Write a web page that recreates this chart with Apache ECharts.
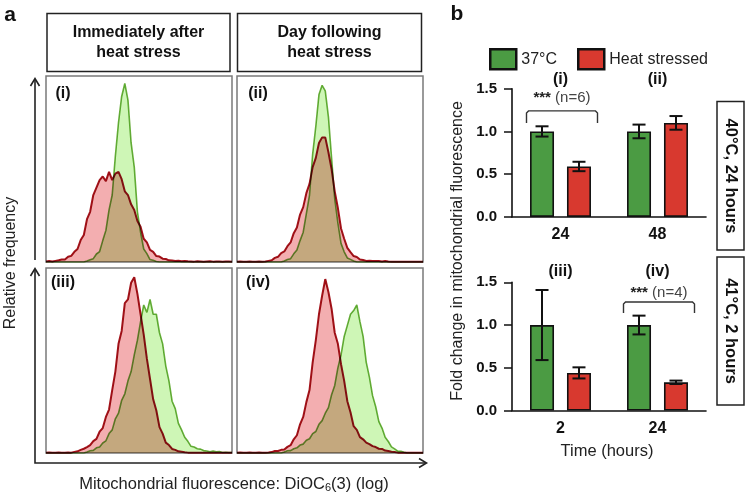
<!DOCTYPE html>
<html><head><meta charset="utf-8">
<script src="https://cdn.jsdelivr.net/npm/echarts@6/dist/echarts.min.js"></script>
<style>html,body{margin:0;padding:0;background:#fff}#c{width:746px;height:495px}</style>
</head><body><div id="c"></div>
<script>
// ---------- Panel a: flow-cytometry histograms (relative frequency, % of panel height), 60 log bins ----------
const histI_green   = [0,0,0,0,0,0,0,0,0,0,0,0,0, 0.5,1.2,1.8,4.3,5.6,11.5,17,28,36,57,75,89,96,87,64,51,27,16,7,4.5,1.3,0.9,0.3, 0,0,0,0,0,0,0,0,0,0,0,0,0,0,0,0,0,0,0,0,0,0,0,0];
const histI_red     = [0.3,0.5,0.3,0.6,0.9,1.3,1.4,2.8,3.3,5.5,7,11.8,14.5,23,27,36,40,44,46,43.5,48.5,44,47.5,48.5,44.5,38,36,31,28,22,19,12.5,10.5,6.5,5.4,3.2,2.9,1.8,1.6,0.9,0.8,0.5,0.7,0.4,0.6,0.4, 0.3,0.2,0.4,0.3,0.2,0.3,0.4,0.2,0.3,0.3,0.2,0.3,0.3,0.2];
const histII_green  = [0,0,0,0,0,0,0,0,0,0,0,0,0,0,0, 0.5,1.3,1.8,4.4,6.5,11.5,16,26,36,58,73,90,95,92,78,56,34,21,10,5.5,2.2,1.4,0.5, 0,0,0,0,0,0,0,0,0,0,0,0,0,0,0,0,0,0,0,0,0,0];
const histII_red    = [0.2,0.3,0.2,0.1,0.3,0.2,0.2,0.3,0.2,0.3, 0.6,0.9,2.2,2.8,4.8,5.7,8.5,10.5,15.5,18.5,25.5,29.5,37,42,51,56,64,67,67,59,50,38,29,18,12.5,7.6,5.3,3.2,2.7,1.3,1.1,0.6,0.7,0.5,0.6,0.5,0.3,0.5,0.3, 0.2,0.2,0.2,0.2,0.2,0.2,0.2,0.2,0.2,0.2,0.2];
const histIII_green = [0,0,0,0,0,0,0,0,0,0,0,0,0, 0.5,1.2,1.4,2.8,3.3,5.4,6.6,10.5,12.5,18.5,21.5,28.5,32,39,44,53,61,71,80,76,83,75,75,65,59,47,39,28,24,16,12.5,8.5,6.3,3.6,3.2,2.3,2.1,1.3,1.1,0.7,1,0.6,0.8, 0.3,0.4,0.2,0.3];
const histIII_red   = [0.2,0.3,0.2,0.2,0.3,0.2,0.2,0.3,0.2, 0.6,0.9,1.7,2.3,3.2,4.3,6.4,7.6,11.5,13.5,19.5,23.5,34,44,59,66,81,83,92,95,86,75,64,51,40,29,23,14,10.5,5.6,4.3,2.2,1.7,0.9,0.7,0.4, 0.2,0.2,0.2,0.2,0.2,0.2,0.2,0.2,0.2,0.2,0.2,0.2,0.2,0.2,0.2];
const histIV_green  = [0,0,0,0,0,0,0,0,0,0,0,0,0,0,0, 0.5,1.2,1.3,2.3,2.8,4.3,4.8,6.9,7.7,10.5,11.6,15.5,17.5,21.5,24.5,31.5,36.5,46,53,63,69,75,77,80,71,63,49,41,31,25,17,13.5,8.5,6.2,3.3,2.2,1,0.9,0.4, 0,0,0,0,0,0];
const histIV_red    = [0.2,0.3,0.2,0.2,0.3,0.2,0.2,0.3,0.2,0.2,0.3, 0.5,1.1,1.1,1.7,1.9,3.3,4.2,7.4,9.6,15.5,19.5,27.5,34,49,61,75,85,94,87,78,65,59,48,39,28,22,14.5,12.5,8.6,7.4,5.6,4.8,3.7,3.2,2.3,2.2,1.3,1.1,0.7,0.5, 0.2,0.2,0.2,0.2,0.2,0.2,0.2,0.2,0.2];
const panelLabels = ['(i)', '(ii)', '(iii)', '(iv)'];
const headerLabels = ['Immediately after\nheat stress', 'Day following\nheat stress'];

// ---------- Panel b: fold change in mitochondrial fluorescence ----------
const seriesNames = ['37°C', 'Heat stressed'];
const timeTop = ['24', '48'];
const ctrlTop = [1.00, 1.00];
const ctrlTopErr = [0.06, 0.08];
const heatTop = [0.59, 1.10];
const heatTopErr = [0.055, 0.08];
const timeBot = ['2', '24'];
const ctrlBot = [1.00, 1.00];
const ctrlBotErr = [0.41, 0.11];
const heatBot = [0.44, 0.33];
const heatBotErr = [0.065, 0.02];
const yTicks = [0, 0.5, 1.0, 1.5];
// significance annotations: [category index, bracket top, bracket end, text y]
const sigTop = [[0, 1.24, 1.10, 1.39]];
const sigTopN = ['6'];
const sigBot = [[1, 1.27, 1.14, 1.38]];
const sigBotN = ['4'];
const rightBoxLabels = ['40°C, 24 hours', '41°C, 2 hours'];

const FONT = '"Liberation Sans", Arial, Helvetica, sans-serif';
const GREEN_LINE = '#6aae3c', GREEN_FILL = '#cef6b6';
const RED_LINE = '#a3121a', RED_FILL = '#f3aeb0';
const BAR_GREEN = '#4b9b43', BAR_RED = '#d8392f';
const BAR_W = 24, BAR_GAP = 0.54;
const BAR_OFFSET = (BAR_W + BAR_W * BAR_GAP) / 2;

const chart = echarts.init(document.getElementById('c'), null, {renderer: 'canvas'});

const grids = [], xAxes = [], yAxes = [], series = [];
const panelRects = [[46, 76, 186, 186], [237, 76, 186, 186], [46, 268, 186, 185], [237, 268, 186, 185]];
const hists = [[histI_green, histI_red], [histII_green, histII_red], [histIII_green, histIII_red], [histIV_green, histIV_red]];
panelRects.forEach((p, k) => {
  grids.push({left: p[0], top: p[1], width: p[2], height: p[3], show: true, borderColor: '#7a7a7a', borderWidth: 1.5});
  xAxes.push({type: 'value', gridIndex: k, min: 0, max: 59, show: false});
  yAxes.push({type: 'value', gridIndex: k, min: 0, max: 100, show: false});
  const [g, r] = hists[k];
  series.push({type: 'line', xAxisIndex: k, yAxisIndex: k, data: g.map((v, i) => [i, v]), symbol: 'none',
    lineStyle: {color: GREEN_LINE, width: 1.6}, areaStyle: {color: GREEN_FILL, opacity: 1}, blendMode: 'multiply', z: 2, silent: true});
  series.push({type: 'line', xAxisIndex: k, yAxisIndex: k, data: r.map((v, i) => [i, v]), symbol: 'none',
    lineStyle: {color: RED_LINE, width: 2}, areaStyle: {color: RED_FILL, opacity: 1}, blendMode: 'multiply', z: 3, silent: true});
});

// bar grids
const barGrids = [{top: 88.7, cats: timeTop, c: ctrlTop, ce: ctrlTopErr, h: heatTop, he: heatTopErr, sig: sigTop, n: sigTopN},
                  {top: 282.3, cats: timeBot, c: ctrlBot, ce: ctrlBotErr, h: heatBot, he: heatBotErr, sig: sigBot, n: sigBotN}];
barGrids.forEach((b, j) => {
  const k = 4 + j;
  grids.push({left: 512, top: b.top, width: 194, height: 128.2});
  xAxes.push({type: 'category', gridIndex: k, data: b.cats,
    axisLine: {lineStyle: {color: '#111', width: 1.6}},
    axisTick: {alignWithLabel: true, length: 5, lineStyle: {color: '#111', width: 1.5}},
    axisLabel: {fontFamily: FONT, fontWeight: 'bold', fontSize: 16, color: '#111', margin: 10}});
  yAxes.push({type: 'value', gridIndex: k, min: yTicks[0], max: yTicks[yTicks.length - 1], interval: 0.5,
    splitLine: {show: false},
    axisLine: {show: true, lineStyle: {color: '#111', width: 1.6}},
    axisTick: {show: true, length: 8, lineStyle: {color: '#111', width: 1.5}},
    axisLabel: {fontFamily: FONT, fontWeight: 'bold', fontSize: 15, color: '#111', margin: 15, formatter: v => v.toFixed(1)}});
  series.push({type: 'bar', name: seriesNames[0], xAxisIndex: k, yAxisIndex: k, data: b.c, barWidth: BAR_W, barGap: (BAR_GAP * 100) + '%',
    itemStyle: {color: BAR_GREEN, borderColor: '#111', borderWidth: 1.6}, z: 2});
  series.push({type: 'bar', name: seriesNames[1], xAxisIndex: k, yAxisIndex: k, data: b.h, barWidth: BAR_W, barGap: (BAR_GAP * 100) + '%',
    itemStyle: {color: BAR_RED, borderColor: '#111', borderWidth: 1.6}, z: 2});
  const errData = [];
  b.c.forEach((v, i) => errData.push([i, v - b.ce[i], v + b.ce[i], -1]));
  b.h.forEach((v, i) => errData.push([i, v - b.he[i], v + b.he[i], 1]));
  series.push({type: 'custom', xAxisIndex: k, yAxisIndex: k, data: errData, z: 5, silent: true,
    renderItem: (params, api) => {
      const lo = api.coord([api.value(0), api.value(1)]);
      const hi = api.coord([api.value(0), api.value(2)]);
      const x = lo[0] + api.value(3) * BAR_OFFSET;
      const cap = 6.5, st = {stroke: '#111', lineWidth: 2};
      return {type: 'group', children: [
        {type: 'line', shape: {x1: x, y1: lo[1], x2: x, y2: hi[1]}, style: st},
        {type: 'line', shape: {x1: x - cap, y1: lo[1], x2: x + cap, y2: lo[1]}, style: st},
        {type: 'line', shape: {x1: x - cap, y1: hi[1], x2: x + cap, y2: hi[1]}, style: st}
      ]};
    }});
  series.push({type: 'custom', xAxisIndex: k, yAxisIndex: k, data: b.sig, z: 5, silent: true, clip: false,
    renderItem: (params, api) => {
      const top = api.coord([api.value(0), api.value(1)]);
      const end = api.coord([api.value(0), api.value(2)]);
      const txt = api.coord([api.value(0), api.value(3)]);
      const cx = top[0] + 1.5, hw = 35.5;
      return {type: 'group', children: [
        {type: 'polyline', shape: {points: [[cx - hw, end[1]], [cx - hw, top[1] + 2], [cx - hw + 2, top[1]], [cx + hw - 2, top[1]], [cx + hw, top[1] + 2], [cx + hw, end[1]]]},
          style: {stroke: '#333', lineWidth: 1.4, fill: null}},
        {type: 'text', x: cx, y: txt[1], style: {text: '{s|***} (n=' + b.n[params.dataIndex] + ')', align: 'center', verticalAlign: 'middle',
          font: '15px ' + FONT, fill: '#444', rich: {s: {fontWeight: 'bold', fontSize: 15, fontFamily: FONT, fill: '#222', verticalAlign: 'top'}}}}
      ]};
    }});
});

const T = (text, x, y, size, weight, extra) => ({type: 'text', x: x, y: y, silent: true,
  style: Object.assign({text: text, font: (weight || 'normal') + ' ' + size + 'px ' + FONT, fill: '#111', align: 'center', verticalAlign: 'middle'}, extra || {})});
const graphics = [
  T('a', 10, 15, 21, 'bold'),
  T('b', 457, 14, 21, 'bold'),
  {type: 'rect', shape: {x: 47, y: 13.5, width: 183, height: 58}, style: {fill: null, stroke: '#222', lineWidth: 1.5}, silent: true},
  {type: 'rect', shape: {x: 237.5, y: 13.5, width: 184, height: 58}, style: {fill: null, stroke: '#222', lineWidth: 1.5}, silent: true},
  T(headerLabels[0], 138.5, 42.5, 16, 'bold', {lineHeight: 20}),
  T(headerLabels[1], 329.5, 42.5, 16, 'bold', {lineHeight: 20}),
  T(panelLabels[0], 63, 94, 16, 'bold'),
  T(panelLabels[1], 258, 94, 16, 'bold'),
  T(panelLabels[2], 63, 283, 16, 'bold'),
  T(panelLabels[3], 258, 283, 16, 'bold'),
  // axis arrows of panel a
  {type: 'polyline', shape: {points: [[35, 260], [35, 79]]}, style: {stroke: '#222', lineWidth: 1.6, fill: null}, silent: true},
  {type: 'polyline', shape: {points: [[30.5, 86], [35, 78.5], [39.5, 86]]}, style: {stroke: '#222', lineWidth: 1.6, fill: null}, silent: true},
  {type: 'polyline', shape: {points: [[35, 269], [35, 463], [426, 463]]}, style: {stroke: '#222', lineWidth: 1.6, fill: null}, silent: true},
  {type: 'polyline', shape: {points: [[30.5, 276], [35, 268.5], [39.5, 276]]}, style: {stroke: '#222', lineWidth: 1.6, fill: null}, silent: true},
  {type: 'polyline', shape: {points: [[419, 458.5], [426.5, 463], [419, 467.5]]}, style: {stroke: '#222', lineWidth: 1.6, fill: null}, silent: true},
  Object.assign(T('Relative frequency', 11, 263, 16, 'normal', {fill: '#222'}), {rotation: Math.PI / 2}),
  {type: 'text', x: 234, y: 484, silent: true, style: {text: 'Mitochondrial fluorescence: DiOC{sub|6}(3) (log)', font: '16.5px ' + FONT, fill: '#222', align: 'center', verticalAlign: 'middle',
    rich: {sub: {fontSize: 11, fontFamily: FONT, fill: '#222', verticalAlign: 'bottom', padding: [8, 0, 0, 0]}}}},
  // panel b texts
  T(panelLabels[0], 560.5, 80, 16, 'bold'),
  T(panelLabels[1], 657.5, 80, 16, 'bold'),
  T(panelLabels[2], 560.5, 272, 16, 'bold'),
  T(panelLabels[3], 657.5, 272, 16, 'bold'),
  Object.assign(T('Fold change in mitochondrial fluorescence', 458, 251, 16, 'normal', {fill: '#222'}), {rotation: Math.PI / 2}),
  T('Time (hours)', 607, 451, 16.5, 'normal', {fill: '#222'}),
  {type: 'rect', shape: {x: 717, y: 101.5, width: 27, height: 148.5}, style: {fill: null, stroke: '#222', lineWidth: 1.5}, silent: true},
  {type: 'rect', shape: {x: 717, y: 257, width: 27, height: 148}, style: {fill: null, stroke: '#222', lineWidth: 1.5}, silent: true},
  Object.assign(T(rightBoxLabels[0], 730.5, 176, 16.5, 'bold'), {rotation: -Math.PI / 2}),
  Object.assign(T(rightBoxLabels[1], 730.5, 331, 16.5, 'bold'), {rotation: -Math.PI / 2})
];

chart.setOption({
  animation: false,
  backgroundColor: '#fff',
  grid: grids, xAxis: xAxes, yAxis: yAxes, series: series,
  legend: {data: seriesNames, left: 484, top: 43, itemWidth: 26, itemHeight: 20, itemGap: 20, icon: 'rect',
    itemStyle: {borderColor: '#111', borderWidth: 2.5},
    textStyle: {fontFamily: FONT, fontSize: 16, color: '#222'}, selectedMode: false},
  graphic: graphics
});
</script>
</body></html>
